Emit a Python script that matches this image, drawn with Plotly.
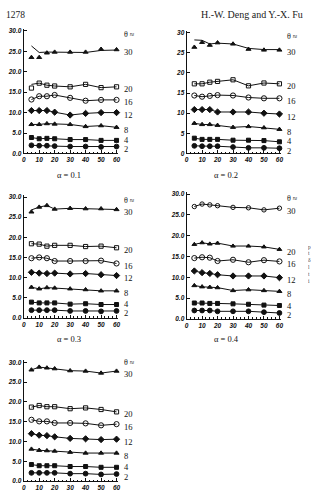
import plotly.graph_objects as go

# ---------------- data ----------------
X = [5, 10, 15, 20, 30, 40, 50, 60]
THETAS = [2, 4, 8, 12, 16, 20, 30]
ALPHAS = ["0.1", "0.2", "0.3", "0.4", ""]

# simulated values (markers), one row per theta in THETAS order
alpha01 = [
    [2.0, 1.9, 1.9, 1.8, 1.7, 1.7, 1.6, 1.7],
    [3.9, 3.6, 3.7, 3.6, 3.4, 3.4, 3.2, 3.2],
    [7.1, 7.1, 7.3, 7.2, 7.1, 6.6, 6.8, 6.4],
    [10.5, 10.5, 10.5, 10.1, 9.4, 9.8, 10.0, 10.0],
    [13.2, 14.0, 14.0, 14.3, 13.6, 12.9, 13.1, 13.1],
    [16.0, 17.2, 16.7, 16.5, 16.3, 16.9, 16.1, 16.3],
    [23.5, 23.5, 24.6, 24.8, 24.8, 24.8, 25.5, 25.4],
]
alpha02 = [
    [1.9, 1.8, 1.8, 1.8, 1.6, 1.4, 1.4, 1.3],
    [3.8, 3.5, 3.5, 3.5, 3.3, 3.3, 3.2, 2.9],
    [7.5, 7.2, 7.2, 7.0, 6.5, 6.7, 6.4, 6.0],
    [10.9, 10.9, 10.9, 10.3, 10.3, 10.3, 10.0, 9.8],
    [14.4, 14.1, 14.3, 14.5, 14.4, 13.9, 13.7, 13.7],
    [17.3, 17.3, 17.7, 17.9, 18.3, 16.8, 17.5, 17.3],
    [26.4, 27.6, 26.9, 27.5, 27.2, 25.9, 25.7, 25.7],
]
alpha03 = [
    [1.9, 1.9, 1.9, 1.9, 1.7, 1.7, 1.6, 1.7],
    [3.9, 3.7, 3.7, 3.7, 3.4, 3.5, 3.3, 3.3],
    [7.6, 7.2, 7.5, 7.4, 7.2, 7.0, 6.7, 6.7],
    [11.3, 11.1, 11.0, 11.1, 10.9, 11.0, 10.7, 10.5],
    [14.8, 15.0, 14.8, 14.1, 14.1, 14.1, 14.2, 13.5],
    [18.4, 18.3, 17.8, 18.0, 18.0, 17.7, 17.8, 17.4],
    [26.3, 27.5, 27.9, 27.0, 27.2, 27.1, 27.1, 26.9],
]
alpha04 = [
    [2.0, 2.0, 2.0, 1.8, 1.8, 1.8, 1.6, 1.4],
    [3.8, 3.8, 3.7, 3.7, 3.6, 3.5, 3.3, 3.2],
    [8.0, 7.7, 7.6, 7.5, 6.8, 7.0, 6.8, 6.6],
    [11.5, 11.1, 10.9, 10.6, 10.3, 10.3, 10.3, 9.9],
    [14.6, 14.8, 14.7, 13.9, 14.2, 13.6, 14.1, 13.8],
    [17.9, 18.3, 18.0, 18.2, 17.5, 17.5, 17.3, 16.7],
    [27.0, 27.6, 27.4, 27.2, 26.8, 26.7, 26.2, 26.6],
]
alpha05 = [
    [2.1, 2.1, 2.1, 2.1, 1.9, 1.9, 1.7, 1.8],
    [4.2, 3.9, 3.9, 3.9, 3.7, 3.7, 3.5, 3.5],
    [8.1, 7.8, 7.7, 7.6, 7.3, 7.1, 7.1, 7.1],
    [12.0, 11.6, 11.5, 11.2, 10.8, 10.7, 10.5, 10.6],
    [15.5, 15.1, 15.1, 14.7, 14.7, 14.6, 14.1, 14.4],
    [18.7, 19.1, 18.8, 18.8, 18.3, 18.5, 18.1, 17.5],
    [28.1, 28.8, 28.6, 28.4, 27.9, 27.8, 27.3, 27.8],
]
PANELS = [alpha01, alpha02, alpha03, alpha04, alpha05]

# expected-value curves that differ from the simulated points
alpha01_th30_line = [26.3, 24.7, 24.8, 24.8, 24.7, 24.7, 25.2, 25.3]
alpha01_th20_line = [16.9, 17.2, 16.7, 16.5, 16.3, 16.9, 16.1, 16.3]
alpha02_th30_line = [28.2, 28.1, 27.2, 27.4, 27.2, 26.1, 25.8, 25.8]
alpha03_th30_line = [26.8, 27.5, 27.9, 27.0, 27.2, 27.1, 27.1, 26.9]
LINE_OVERRIDES = {
    (0, 30): alpha01_th30_line,
    (0, 20): alpha01_th20_line,
    (1, 30): alpha02_th30_line,
    (2, 30): alpha03_th30_line,
}

# ---------------- styles ----------------
W, H = 313, 501
SYM = {2: "circle", 4: "square", 8: "triangle-up", 12: "diamond",
       16: "circle-open", 20: "square-open", 30: "triangle-up"}
SIZE = {2: 4.8, 4: 4, 8: 4.4, 12: 4.8, 16: 5.2, 20: 4.2, 30: 4.4}
# panel 4 swaps symbols of 20 and 30
SYM_P4 = {20: "triangle-up", 30: "circle-open"}

# axis boxes in pixels
XL = [22, 187, 22, 187, 22]
Y0 = [153, 153, 319, 320, 484]
PPU = [4.13, 4.067, 4.067, 4.2, 4.0]
PX_PER_X = 1.567
XMAX = 61
YMAX = 30.5
LABEL_X = 63.5 / XMAX  # in axis-domain units
LABEL_GAP = 9.5        # minimum vertical pixel gap between right-hand labels
THETA_LABEL_Y = 29.0

serif = "Liberation Serif"
sans = "Liberation Sans"

fig = go.Figure()
layout = {}
annotations = []

for p, data in enumerate(PANELS):
    ax = "" if p == 0 else str(p + 1)
    xa, ya = "x" + ax, "y" + ax
    prev_px = -100.0
    for i, th in enumerate(THETAS):
        vals = data[i]
        line_vals = LINE_OVERRIDES.get((p, th), vals)
        fig.add_trace(go.Scatter(x=X, y=line_vals, mode="lines",
                                 line=dict(color="#111", width=1),
                                 xaxis=xa, yaxis=ya, showlegend=False,
                                 hoverinfo="skip"))
        sym = SYM_P4.get(th, SYM[th]) if p == 3 else SYM[th]
        fig.add_trace(go.Scatter(x=X, y=vals, mode="markers",
                                 marker=dict(symbol=sym, size=SIZE[th], color="#111",
                                             line=dict(color="#111", width=1)),
                                 xaxis=xa, yaxis=ya, showlegend=False,
                                 cliponaxis=False))
        base_px = vals[-1] * PPU[p]
        target = max(base_px - 2.5, prev_px + LABEL_GAP)
        prev_px = target
        annotations.append(dict(x=LABEL_X, y=vals[-1], xref=xa + " domain", yref=ya,
                                text=str(th), showarrow=False, xanchor="left",
                                yanchor="middle", yshift=target - base_px,
                                font=dict(family=serif, size=8.5, color="#111")))
    base_px = THETA_LABEL_Y * PPU[p]
    target = max(base_px, prev_px + LABEL_GAP + 2)
    annotations.append(dict(x=LABEL_X, y=THETA_LABEL_Y, xref=xa + " domain", yref=ya,
                            text="θ ≈", showarrow=False, xanchor="left",
                            yanchor="middle", yshift=target - base_px,
                            font=dict(family=serif, size=8, color="#111")))

    x0 = XL[p]
    x1 = x0 + XMAX * PX_PER_X
    yb = Y0[p]
    yt = yb - YMAX * PPU[p]
    tick_font = dict(family=sans, size=6.5, color="#111", weight="bold", style="italic")
    layout["xaxis" + ax] = dict(
        domain=[x0 / W, x1 / W], range=[0, XMAX], anchor=ya,
        tickvals=[0, 10, 20, 30, 40, 50, 60], ticks="inside", ticklen=3,
        tickcolor="#111", showline=True, linecolor="#111", linewidth=1,
        showgrid=False, zeroline=False, tickfont=tick_font,
        minor=dict(dtick=2.5, ticks="inside", ticklen=1.5, tickcolor="#111"),
    )
    layout["yaxis" + ax] = dict(
        domain=[1 - yb / H, 1 - yt / H], range=[0, YMAX], anchor=xa,
        tickvals=[0, 5, 10, 15, 20, 25, 30],
        tickformat="d" if p == 1 else ".1f",
        ticks="inside", ticklen=3, tickcolor="#111",
        showline=True, linecolor="#111", linewidth=1,
        showgrid=False, zeroline=False, tickfont=tick_font,
    )

# panel titles
title_pos = [(68, 175), (227, 175), (68, 340), (227, 340)]
for (tx, ty), a in zip(title_pos, ALPHAS[:4]):
    annotations.append(dict(x=tx / W, y=1 - ty / H, xref="paper", yref="paper",
                            text="α = " + a, showarrow=False, xanchor="center",
                            yanchor="middle",
                            font=dict(family=serif, size=8.5, color="#111")))

# page header
annotations.append(dict(x=2 / W, y=1 - 13 / H, xref="paper", yref="paper",
                        text="1278", showarrow=False, xanchor="left", yanchor="middle",
                        font=dict(family=serif, size=9.5, color="#222")))
annotations.append(dict(x=307 / W, y=1 - 13 / H, xref="paper", yref="paper",
                        text="H.-W. Deng and Y.-X. Fu", showarrow=False,
                        xanchor="right", yanchor="middle",
                        font=dict(family=serif, size=10, color="#222")))

# fragments of the neighbouring text column at the right edge
for ch, cy in zip(["p", "t", "δ", "l", "t", "i"], [247, 254, 261, 268, 275, 282]):
    annotations.append(dict(x=308 / W, y=1 - cy / H, xref="paper", yref="paper",
                            text=ch, showarrow=False, xanchor="left", yanchor="middle",
                            height=6, font=dict(family=serif, size=5.5, color="#444")))

fig.update_layout(width=W, height=H, margin=dict(l=0, r=0, t=0, b=0),
                  paper_bgcolor="white", plot_bgcolor="white",
                  annotations=annotations, **layout)

fig.write_html("out.html")
